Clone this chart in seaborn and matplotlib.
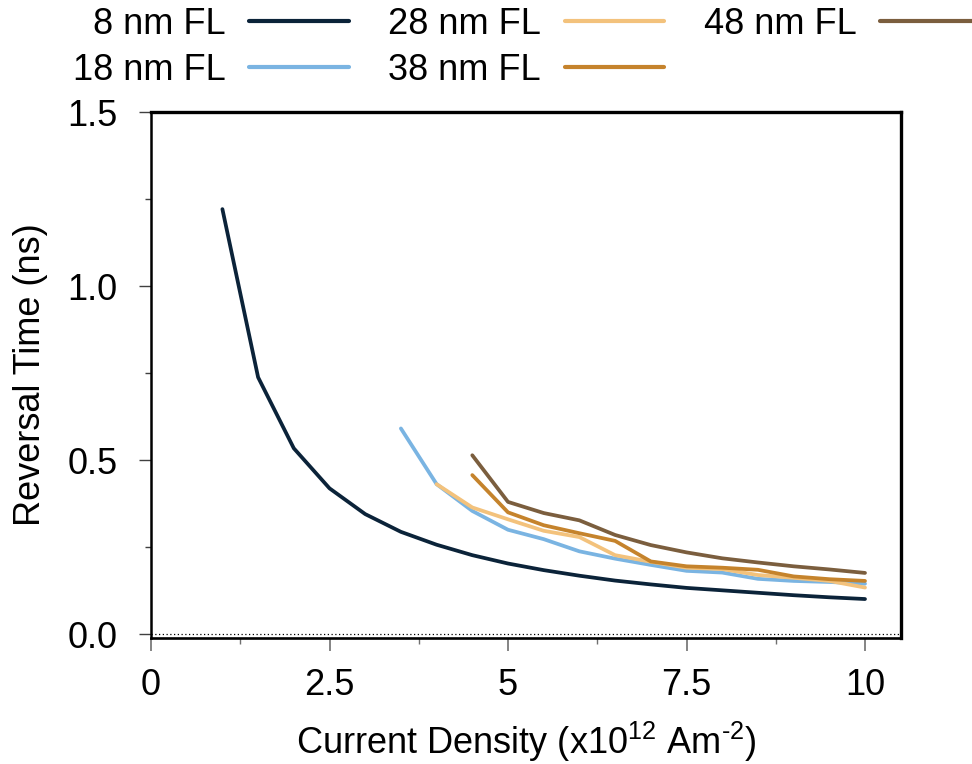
import numpy as np
import pandas as pd
import matplotlib
matplotlib.use("Agg")
import matplotlib.pyplot as plt
from matplotlib.lines import Line2D
from matplotlib.ticker import MultipleLocator
import seaborn as sns

# ---- data ----
series_names = ["8 nm FL", "18 nm FL", "28 nm FL", "38 nm FL", "48 nm FL"]

x_8 = [1, 1.5, 2, 2.5, 3, 3.5, 4, 4.5, 5, 5.5, 6, 6.5, 7, 7.5, 8, 8.5, 9, 9.5, 10]
y_8 = [1.221, 0.738, 0.534, 0.419, 0.345, 0.294, 0.257, 0.227, 0.203, 0.184, 0.168,
       0.154, 0.143, 0.133, 0.126, 0.119, 0.112, 0.106, 0.101]

x_18 = [3.5, 4, 4.5, 5, 5.5, 6, 6.5, 7, 7.5, 8, 8.5, 9, 9.5, 10]
y_18 = [0.591, 0.431, 0.354, 0.300, 0.273, 0.238, 0.217, 0.199, 0.182, 0.177, 0.159,
        0.153, 0.150, 0.145]

x_28 = [4, 4.5, 5, 5.5, 6, 6.5, 7, 7.5, 8, 8.5, 9, 9.5, 10]
y_28 = [0.431, 0.364, 0.330, 0.297, 0.279, 0.227, 0.208, 0.191, 0.187, 0.170, 0.162,
        0.153, 0.134]

x_38 = [4.5, 5, 5.5, 6, 6.5, 7, 7.5, 8, 8.5, 9, 9.5, 10]
y_38 = [0.457, 0.350, 0.313, 0.290, 0.268, 0.209, 0.195, 0.191, 0.185, 0.166, 0.158, 0.153]

x_48 = [4.5, 5, 5.5, 6, 6.5, 7, 7.5, 8, 8.5, 9, 9.5, 10]
y_48 = [0.514, 0.380, 0.348, 0.327, 0.285, 0.256, 0.235, 0.218, 0.206, 0.195, 0.186, 0.176]

colors = ["#0b2339", "#7ab4e2", "#f3c27c", "#c5832c", "#7b5e3e"]

x_ticks = [0, 2.5, 5, 7.5, 10]
x_ticklabels = ["0", "2.5", "5", "7.5", "10"]
y_ticks = [0.0, 0.5, 1.0, 1.5]
y_ticklabels = ["0.0", "0.5", "1.0", "1.5"]

xs = [x_8, x_18, x_28, x_38, x_48]
ys = [y_8, y_18, y_28, y_38, y_48]
frames = [pd.DataFrame({"J": xv, "t": yv, "series": name})
          for name, xv, yv in zip(series_names, xs, ys)]
df = pd.concat(frames, ignore_index=True)
palette = dict(zip(series_names, colors))

# ---- style ----
sns.set_theme(style="white")
plt.rcParams["font.family"] = ["Liberation Sans", "DejaVu Sans"]
plt.rcParams["mathtext.fontset"] = "custom"
plt.rcParams["mathtext.rm"] = "Liberation Sans"
plt.rcParams["mathtext.default"] = "regular"
plt.rcParams["text.color"] = "black"
plt.rcParams["axes.labelcolor"] = "black"
plt.rcParams["xtick.labelcolor"] = "black"
plt.rcParams["ytick.labelcolor"] = "black"

FS = 26

fig = plt.figure(figsize=(9.72, 7.64), dpi=100)
ax = fig.add_axes([151 / 972, 1 - 637.5 / 764, (900.7 - 151) / 972, (637.5 - 112) / 764])

sns.lineplot(data=df, x="J", y="t", hue="series", palette=palette,
             hue_order=series_names, estimator=None, sort=False,
             linewidth=2.7, legend=False, ax=ax)

ax.axhline(0, color="black", linestyle=(0, (1, 2)), linewidth=0.9, zorder=1)

ax.set_xlim(0, 10.5)
ax.set_ylim(-0.0095, 1.5)
ax.set_xticks(x_ticks)
ax.set_xticklabels(x_ticklabels)
ax.set_yticks(y_ticks)
ax.set_yticklabels(y_ticklabels)
ax.xaxis.set_minor_locator(MultipleLocator(1.25))
ax.yaxis.set_minor_locator(MultipleLocator(0.25))

ax.tick_params(axis="x", which="major", direction="out", length=9, width=1.2,
               color="#707070", labelsize=FS, pad=13, bottom=True)
ax.tick_params(axis="x", which="minor", direction="out", length=4, width=1.0,
               color="#707070", bottom=True)
ax.tick_params(axis="y", which="major", direction="out", length=9, width=1.0,
               color="#404040", labelsize=FS, pad=15, left=True)
ax.tick_params(axis="y", which="minor", direction="out", length=4, width=1.0,
               color="#404040", left=True)

for side in ["top", "right"]:
    ax.spines[side].set_linewidth(2.4)
    ax.spines[side].set_color("black")
ax.spines["bottom"].set_linewidth(1.9)
ax.spines["bottom"].set_color("black")
ax.spines["left"].set_linewidth(1.8)
ax.spines["left"].set_color("black")

ax.set_xlabel("Current Density (x10$^{12}$ Am$^{\u20102}$)", fontsize=FS, labelpad=12)
ax.set_ylabel("Reversal Time (ns)", fontsize=FS, labelpad=14)

handles = [Line2D([0], [0], color=c, linewidth=3) for c in colors]
leg = fig.legend(handles, series_names, loc="upper left",
                 bbox_to_anchor=(73 / 972, 1 - 7 / 764), ncol=3, frameon=False,
                 fontsize=FS, markerfirst=False, handlelength=2.75,
                 handletextpad=0.65, columnspacing=1.1, labelspacing=0.3,
                 borderpad=0, borderaxespad=0)

fig.savefig("out.png", dpi=100)
